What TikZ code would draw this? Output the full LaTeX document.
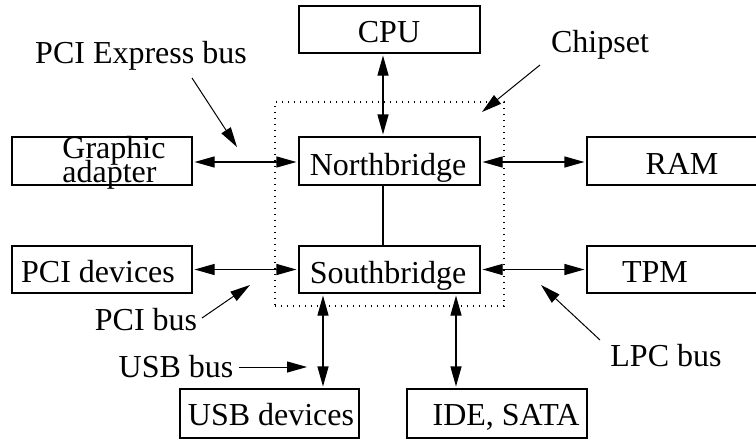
\documentclass[tikz,border=0pt]{standalone}
\usepackage{fontspec}
\setmainfont{Liberation Serif}
\usetikzlibrary{arrows.meta,calc}
\begin{document}
\begin{tikzpicture}[x=0.5pt,y=-0.5pt,
  box/.style={draw,line width=0.55pt,inner sep=0pt,minimum width=90pt,minimum height=24pt},
  txt/.style={anchor=base,inner sep=0pt,font=\fontsize{16pt}{16pt}\selectfont},
  biarrow/.style={line width=0.55pt,shorten <=1pt,shorten >=1pt,{Triangle[length=10pt,width=5.5pt]}-{Triangle[length=10pt,width=5.5pt]}},
  onearrow/.style={line width=0.5pt,-{Triangle[length=10pt,width=5.5pt]}},
  chipbox/.style={line width=0.6pt,dash pattern=on 0.6pt off 2.4pt}]
\clip (0,0) rectangle (756,439);
\useasboundingbox (0,0) rectangle (756,439);
% boxes
\node[box,minimum width=90.5pt,minimum height=23.5pt] (cpu) at (389.5,29.5) {};
\node[box,minimum width=90.5pt] (nb) at (389.5,161) {};
\node[box,minimum width=90.5pt,minimum height=23.5pt] (sb) at (389.5,269.5) {};
\node[box] (ga) at (102,161) {};
\node[box,minimum height=23.5pt] (pci) at (102,269.5) {};
\node[box] (ram) at (677,161) {};
\node[box,minimum height=23.5pt] (tpm) at (677,269.5) {};
\node[box,minimum width=89.5pt,minimum height=24.5pt] (usb) at (269.5,413.5) {};
\node[box,minimum height=24.5pt] (ide) at (497,413.5) {};
% chipset dotted box
\node[chipbox,draw,inner sep=0pt,minimum width=114.5pt,minimum height=102pt] (chip) at (389.5,204) {};
% box texts
\node[txt] (cput) at (389,42) {CPU};
\node[txt] (nbt) at (388,175) {Northbridge};
\node[txt] (sbt) at (388,283) {Southbridge};
\node[txt,anchor=base west] (gat1) at (62,158) {Graphic};
\node[txt,anchor=base west] (gat2) at (62,182) {adapter};
\node[txt] (pcit) at (98,282) {PCI devices};
\node[txt] (ramt) at (682,174) {RAM};
\node[txt] (tpmt) at (655,282) {TPM};
\node[txt] (usbt) at (271,425) {USB devices};
\node[txt] (idet) at (506,425) {IDE, SATA};
% connectors
\draw[biarrow] ([xshift=-3.25pt]cpu.south) -- ([xshift=-3.25pt]nb.north);
\draw[line width=0.55pt] ([xshift=-3.25pt]nb.south) -- ([xshift=-3.25pt]sb.north);
\draw[biarrow] ([yshift=-0.5pt]ga.east) -- ([yshift=-0.5pt]nb.west);
\draw[biarrow] ([yshift=-0.5pt]nb.east) -- ([yshift=-0.5pt]ram.west);
\draw[biarrow] (pci.east) -- (sb.west);
\draw[biarrow] (sb.east) -- (tpm.west);
\draw[biarrow] ([xshift=-33.25pt]sb.south) -- ([xshift=-33.25pt]sb.south |- usb.north);
\draw[biarrow] ([xshift=33.25pt]sb.south) -- ([xshift=33.25pt]sb.south |- ide.north);
% labels
\node[txt] (pcie) at (141,63) {PCI Express bus};
\node[txt] (chipl) at (600,53) {Chipset};
\node[txt] (pcib) at (146,330) {PCI bus};
\node[txt] (usbb) at (176,377) {USB bus};
\node[txt] (lpcb) at (666,366) {LPC bus};
\coordinate (pcieA) at (192,78);
\coordinate (pcieB) at (237,147);
\coordinate (chipA) at (540,65);
\coordinate (chipB) at (482,112);
\coordinate (pcibA) at (202,318);
\coordinate (pcibB) at (250,285);
\coordinate (usbbA) at (239,367);
\coordinate (usbbB) at (307,367);
\coordinate (lpcbA) at (600,340);
\coordinate (lpcbB) at (541,285);
\draw[onearrow] (pcieA) -- (pcieB);
\draw[onearrow] (chipA) -- (chipB);
\draw[onearrow] (pcibA) -- (pcibB);
\draw[onearrow] (usbbA) -- (usbbB);
\draw[onearrow] (lpcbA) -- (lpcbB);
\end{tikzpicture}
\end{document}
